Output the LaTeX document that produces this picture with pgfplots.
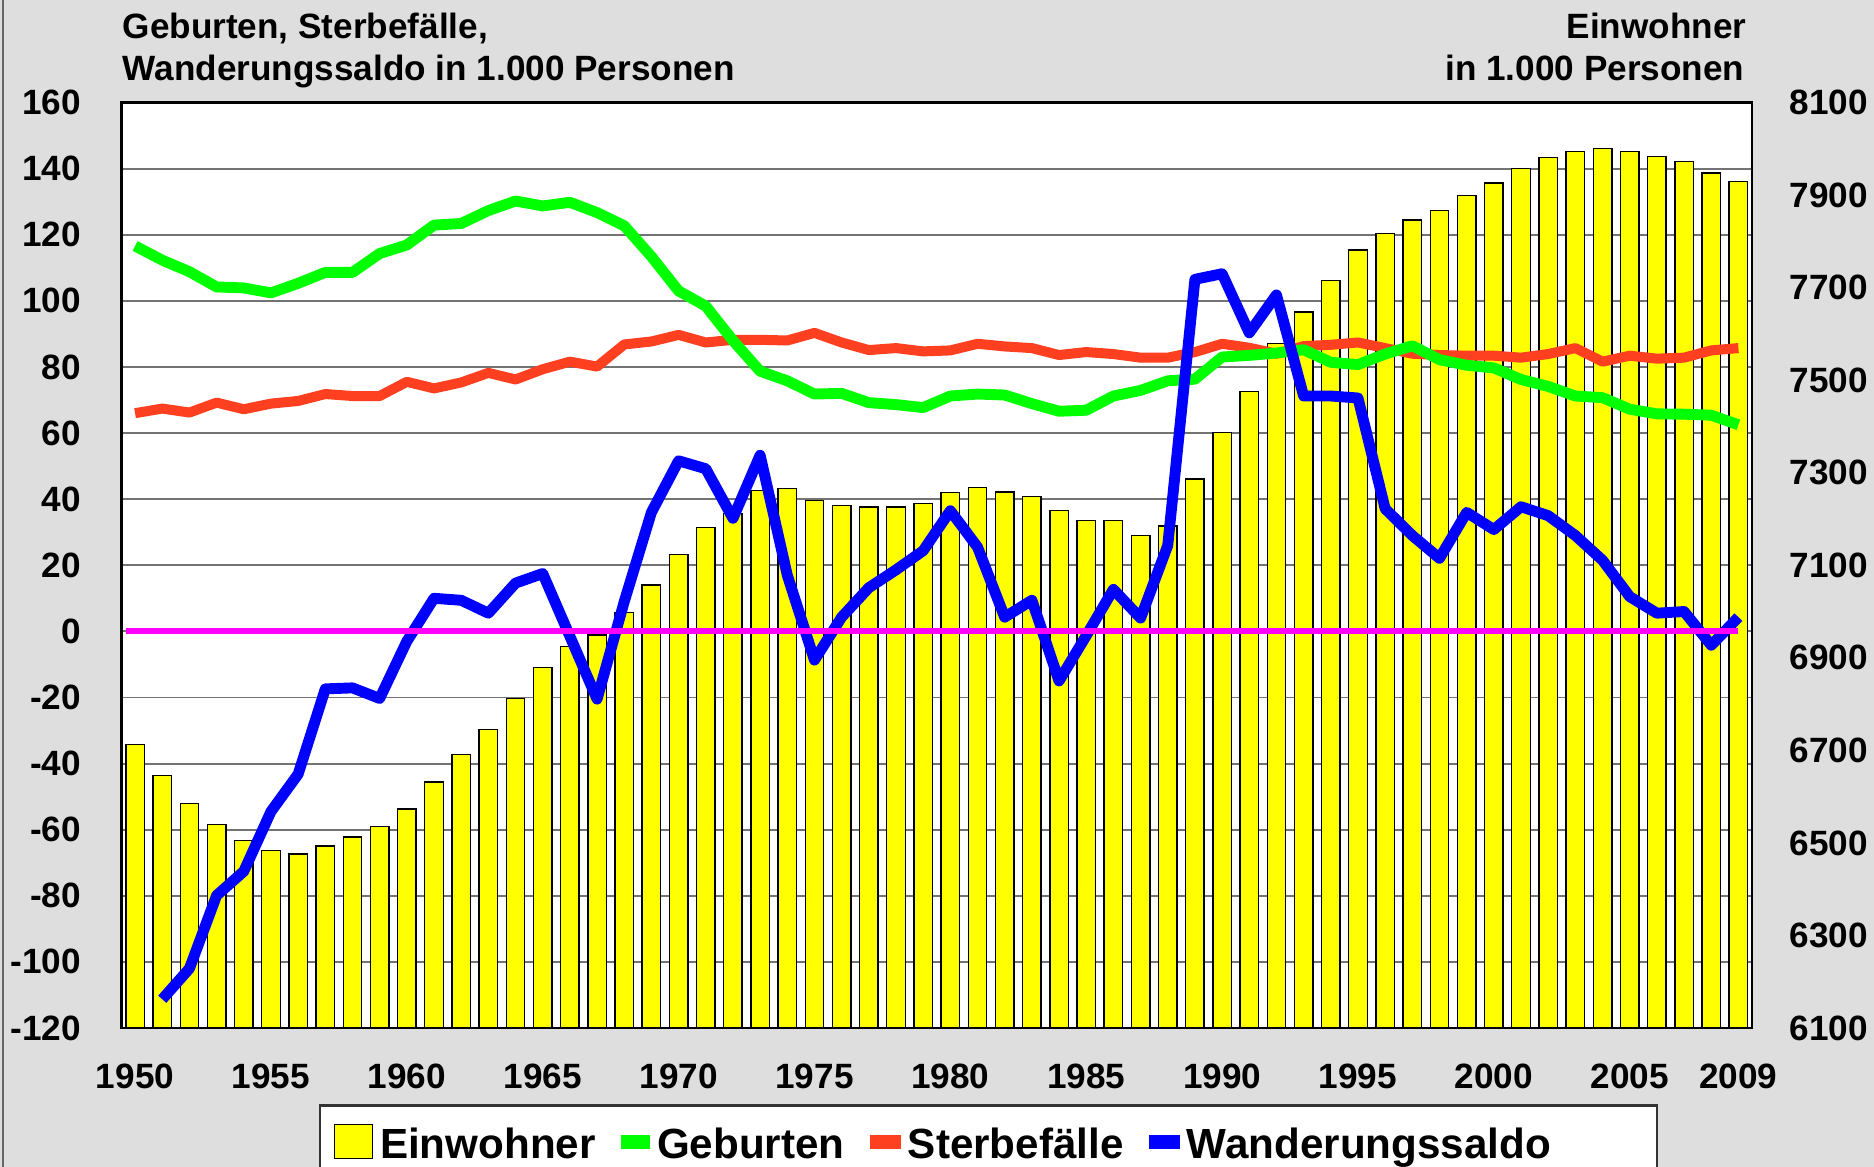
\documentclass[border=0pt]{standalone}
\usepackage{fontspec}
\setmainfont{Liberation Sans}
\usepackage{pgfplots}
\usepackage{pgfplotstable}
\pgfplotsset{compat=1.18}

\definecolor{bgc}{RGB}{222,222,222}
\definecolor{einw}{RGB}{255,255,0}
\definecolor{geb}{RGB}{0,255,0}
\definecolor{ster}{RGB}{255,64,32}
\definecolor{wand}{RGB}{0,0,255}
\definecolor{null}{RGB}{255,0,255}

% Einwohner (right axis), Geburten, Sterbefaelle, Wanderungssaldo (left axis), in 1000
\pgfplotstableread{
jahr einw geb ster wand
1950 6713 116.6 66.0 nan
1951 6646 112.3 67.4 -111.3
1952 6585 108.8 66.2 -102.0
1953 6540 104.2 69.2 -79.9
1954 6505 103.9 67.2 -72.6
1955 6483 102.4 68.9 -54.5
1956 6476 105.3 69.7 -43.2
1957 6493 108.6 71.8 -17.4
1958 6513 108.6 71.2 -17.1
1959 6535 114.3 71.2 -20.3
1960 6573 116.9 75.5 -3.0
1961 6632 122.9 73.5 10.0
1962 6691 123.4 75.3 9.4
1963 6745 127.3 78.2 5.5
1964 6812 130.2 76.2 14.6
1965 6879 128.7 79.3 17.5
1966 6925 129.8 81.6 -1.5
1967 6949 126.7 80.1 -20.5
1968 6998 122.7 86.8 9.0
1969 7057 113.4 87.7 36.0
1970 7123 103.0 89.7 51.6
1971 7182 98.4 87.4 49.2
1972 7212 88.0 88.2 34.2
1973 7261 78.7 88.2 53.3
1974 7266 75.8 88.0 17.0
1975 7240 71.8 90.3 -8.7
1976 7229 72.0 87.4 4.3
1977 7226 69.2 85.1 13.2
1978 7226 68.6 85.7 18.6
1979 7234 67.7 84.7 24.4
1980 7257 71.2 85.0 36.5
1981 7268 71.8 87.0 25.5
1982 7258 71.5 86.2 4.3
1983 7249 68.9 85.7 9.4
1984 7218 66.6 83.6 -15.0
1985 7197 66.9 84.5 -1.3
1986 7197 71.2 83.9 12.7
1987 7164 72.9 82.8 4.0
1988 7185 75.8 82.8 26.0
1989 7286 76.3 84.5 106.5
1990 7387 83.0 87.0 108.2
1991 7476 83.5 85.8 90.3
1992 7579 84.2 84.0 101.8
1993 7647 85.2 86.3 71.2
1994 7715 81.4 86.7 71.2
1995 7781 80.7 87.4 70.6
1996 7817 83.9 85.7 37.1
1997 7846 86.4 84.0 29.0
1998 7866 82.2 83.6 22.1
1999 7899 80.5 83.4 36.0
2000 7926 79.7 83.4 30.8
2001 7957 76.2 82.8 37.7
2002 7981 74.1 83.9 35.0
2003 7994 71.2 85.7 29.0
2004 8001 70.7 81.6 21.5
2005 7994 67.2 83.4 10.5
2006 7983 65.8 82.5 5.5
2007 7972 65.7 82.8 6.0
2008 7948 65.4 85.0 -4.2
2009 7929 62.5 85.7 4.3
}\daten

\pgfplotsset{
  base/.style={
    scale only axis, width=163.05mm, height=92.55mm,
    at={(12.15mm,-102.8mm)}, anchor=south west,
    xmin=1949.5, xmax=2009.5,
    major tick length=0pt,
    /pgf/number format/assume math mode=true,
    /pgf/number format/1000 sep={},
    tick label style={font=\fontsize{10}{12}\selectfont\bfseries},
  },
}

\begin{document}
\begin{tikzpicture}
\useasboundingbox (0,0) rectangle (187.4mm,-116.7mm);
\clip (0,0) rectangle (187.4mm,-116.7mm);
\fill[bgc] (0,0) rectangle (187.4mm,-116.7mm);
\draw[black!60, line width=0.5pt] (0.27mm,0) -- (0.27mm,-116.7mm);

\node[anchor=base west, inner sep=0pt, font=\fontsize{10}{12}\selectfont\bfseries] at (12.2mm,-3.85mm) {Geburten, Sterbefälle,};
\node[anchor=base west, inner sep=0pt, font=\fontsize{10}{12}\selectfont\bfseries] at (12.2mm,-8.1mm) {Wanderungssaldo in 1.000 Personen};
\node[anchor=base east, inner sep=0pt, font=\fontsize{10}{12}\selectfont\bfseries] at (174.7mm,-3.85mm) {Einwohner};
\node[anchor=base east, inner sep=0pt, font=\fontsize{10}{12}\selectfont\bfseries] at (174.5mm,-8.1mm) {in 1.000 Personen};

% legend frame (cut by the lower picture edge)
\filldraw[fill=white, draw=black!80, line width=0.6pt] (31.96mm,-110.55mm) rectangle (165.7mm,-125mm);

% grid, frame, left and x tick labels
\begin{axis}[base,
  ymin=-120, ymax=160, ytick={-120,-100,...,160},
  xtick={1950,1955,...,2005,2009},
  ymajorgrids, grid style={black!55, line width=0.55pt},
  axis line style={black, line width=0.6pt},
  axis background/.style={fill=white},
  yticklabel style={anchor=east, inner sep=0pt, xshift=-4mm},
  xticklabel style={anchor=north, inner sep=0pt, yshift=-3.5mm},
]
\end{axis}

% Einwohner bars, right axis
\begin{axis}[base,
  ymin=6100, ymax=8100, ytick={6100,6300,...,8100},
  axis y line*=right, axis x line=none,
  axis line style={black, line width=0.6pt},
  yticklabel style={anchor=west, inner sep=0pt, xshift=3.7mm},
]
\addplot[ybar, bar width=0.68, fill=einw, draw=black, line width=0.4pt] table[x=jahr, y=einw] {\daten};
\end{axis}

% lines, left scale
\begin{axis}[base,
  ymin=-120, ymax=160, hide axis, clip=false,
  legend columns=4,
  legend style={at={(rel axis cs:0.1297,-0.1026)}, anchor=north west,
    draw=none, fill=none, inner sep=0pt,
    font=\fontsize{12}{14}\selectfont\bfseries,
    cells={anchor=base west}, nodes={inner sep=0pt},
    /tikz/every odd column/.style={column sep=0.7mm},
    /tikz/every even column/.style={column sep=2.5mm}},
]
\addlegendimage{legend image code/.code={\filldraw[fill=einw, draw=black, line width=0.4pt] (0mm,0mm) rectangle (3.8mm,3.4mm);}}
\addlegendentry{Einwohner}
\addlegendimage{legend image code/.code={\fill[geb] (0mm,1.05mm) rectangle (2.8mm,2.25mm);}}
\addlegendentry{Geburten}
\addlegendimage{legend image code/.code={\fill[ster] (0mm,1.05mm) rectangle (3.0mm,2.25mm);}}
\addlegendentry{Sterbefälle}
\addlegendimage{legend image code/.code={\fill[wand] (0mm,1.05mm) rectangle (3.0mm,2.25mm);}}
\addlegendentry{Wanderungssaldo}

\addplot[ster, line width=2.85pt, line join=round, forget plot] table[x=jahr, y=ster] {\daten};
\addplot[geb, line width=3.1pt, line join=round, forget plot] table[x=jahr, y=geb] {\daten};
\addplot[wand, line width=3.1pt, line join=round, forget plot] table[x=jahr, y=wand] {\daten};
\addplot[null, line width=1.7pt, forget plot] coordinates {(1949.66,0) (2009,0)};
\end{axis}
\end{tikzpicture}
\end{document}
